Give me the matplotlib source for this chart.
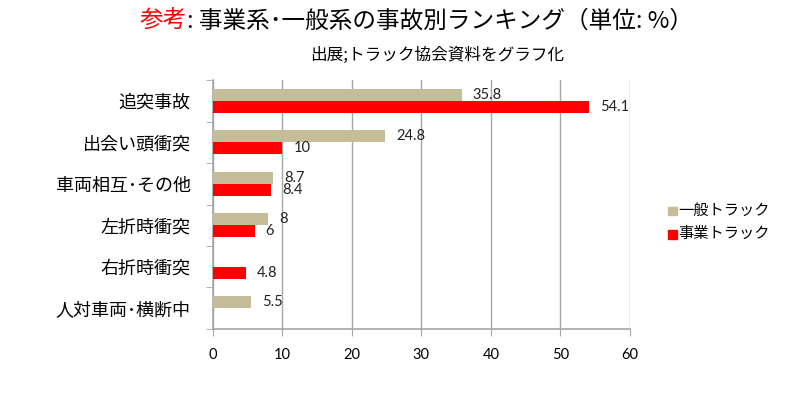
import numpy as np
import matplotlib
matplotlib.use('Agg')
import matplotlib.pyplot as plt
from matplotlib.patches import Rectangle

plt.rcParams['font.family'] = ['Noto Sans CJK JP', 'DejaVu Sans']

categories = ['追突事故', '出会い頭衝突', '車両相互･その他', '左折時衝突', '右折時衝突', '人対車両･横断中']
general = [35.8, 24.8, 8.7, 8, None, 5.5]     # 一般トラック
business = [54.1, 10, 8.4, 6, 4.8, None]      # 事業トラック
xticks = [0, 10, 20, 30, 40, 50, 60]

c_gen = '#C4BD97'
c_bus = '#FF0000'
grid_c = '#A6A6A6'

fig = plt.figure(figsize=(8, 3.93), dpi=100)
ax = fig.add_axes([0.266, 0.163, 0.5215, 0.633])

y = np.arange(len(categories))
h = 0.29
for i in range(len(categories)):
    if general[i] is not None:
        ax.barh(y[i] - h / 2, general[i], height=h, color=c_gen, zorder=3)
        ax.annotate(f'{general[i]:g}', (general[i], y[i] - h / 2), xytext=(8, 0),
                    textcoords='offset points', va='center', ha='left',
                    fontsize=10.5, family='Lato', color='#222222', zorder=4)
    if business[i] is not None:
        ax.barh(y[i] + h / 2, business[i], height=h, color=c_bus, zorder=3)
        ax.annotate(f'{business[i]:g}', (business[i], y[i] + h / 2), xytext=(8, 0),
                    textcoords='offset points', va='center', ha='left',
                    fontsize=10.5, family='Lato', color='#222222', zorder=4)

ax.set_xlim(0, 60)
ax.set_ylim(len(categories) - 0.5, -0.5)
ax.set_xticks(xticks)
ax.set_xticklabels([str(t) for t in xticks], fontsize=10.5, family='Lato')
ax.set_yticks(y)
ax.set_yticklabels(categories, fontsize=13)
ax.set_yticks(np.arange(-0.5, len(categories)), minor=True)
ax.tick_params(axis='y', which='major', length=0, pad=16)
ax.tick_params(axis='y', which='minor', length=5, color=grid_c, direction='out')
ax.tick_params(axis='x', length=5, color=grid_c, direction='out', pad=9)
ax.grid(axis='x', color=grid_c, linewidth=1, zorder=0)
for s in ['top', 'right']:
    ax.spines[s].set_visible(False)
for s in ['left', 'bottom']:
    ax.spines[s].set_color(grid_c)
    ax.spines[s].set_linewidth(1.2)

# legend
fig.patches.append(Rectangle((0.835, 0.452), 0.011, 0.022, color=c_gen, transform=fig.transFigure))
fig.patches.append(Rectangle((0.835, 0.392), 0.011, 0.022, color=c_bus, transform=fig.transFigure))
fig.text(0.848, 0.465, '一般トラック', fontsize=11, va='center', ha='left')
fig.text(0.848, 0.405, '事業トラック', fontsize=11, va='center', ha='left')

# title
t1 = fig.text(0.175, 0.945, '参考', color='red', fontsize=17, va='center', ha='left')
fig.canvas.draw()
bb = t1.get_window_extent()
x2 = bb.x1 / fig.bbox.width
fig.text(x2, 0.945, ': 事業系･一般系の事故別ランキング（単位: %）', color='black',
         fontsize=17, va='center', ha='left')
fig.text(0.547, 0.858, '出展;トラック協会資料をグラフ化', fontsize=12, va='center', ha='center')

plt.savefig('out.png', dpi=100)
